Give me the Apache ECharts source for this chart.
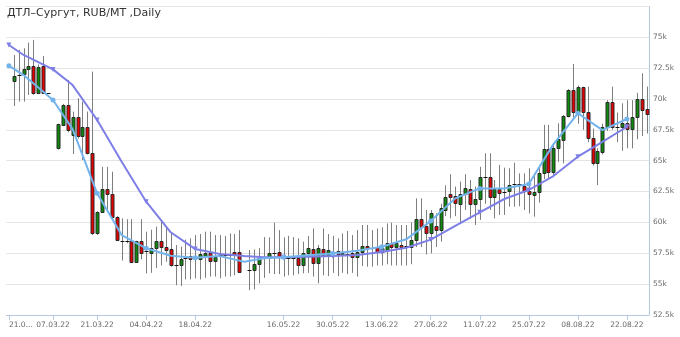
<!DOCTYPE html>
<html><head><meta charset="utf-8">
<script src="https://cdn.jsdelivr.net/npm/echarts@6/dist/echarts.min.js"></script>
<style>html,body{margin:0;padding:0;background:#fff}#c{width:680px;height:337px}</style>
</head><body><div id="c"></div>
<script>
const titleText = 'ДТЛ–Сургут, RUB/MT ,Daily';
const dates = [
'21.02.22','22.02.22','24.02.22','25.02.22',
'28.02.22','01.03.22','02.03.22','03.03.22','04.03.22',
'07.03.22','09.03.22','10.03.22','11.03.22',
'14.03.22','15.03.22','16.03.22','17.03.22','18.03.22',
'21.03.22','22.03.22','23.03.22','24.03.22','25.03.22',
'28.03.22','29.03.22','30.03.22','31.03.22','01.04.22',
'04.04.22','05.04.22','06.04.22','07.04.22','08.04.22',
'11.04.22','12.04.22','13.04.22','14.04.22','15.04.22',
'18.04.22','19.04.22','20.04.22','21.04.22','22.04.22',
'25.04.22','26.04.22','27.04.22','28.04.22','29.04.22',
'03.05.22','04.05.22','05.05.22','06.05.22',
'10.05.22','11.05.22','12.05.22','13.05.22',
'16.05.22','17.05.22','18.05.22','19.05.22','20.05.22',
'23.05.22','24.05.22','25.05.22','26.05.22','27.05.22',
'30.05.22','31.05.22','01.06.22','02.06.22','03.06.22',
'06.06.22','07.06.22','08.06.22','09.06.22','10.06.22',
'13.06.22','14.06.22','15.06.22','16.06.22','17.06.22',
'20.06.22','21.06.22','22.06.22','23.06.22','24.06.22',
'27.06.22','28.06.22','29.06.22','30.06.22','01.07.22',
'04.07.22','05.07.22','06.07.22','07.07.22','08.07.22',
'11.07.22','12.07.22','13.07.22','14.07.22','15.07.22',
'18.07.22','19.07.22','20.07.22','21.07.22','22.07.22',
'25.07.22','26.07.22','27.07.22','28.07.22','29.07.22',
'01.08.22','02.08.22','03.08.22','04.08.22','05.08.22',
'08.08.22','09.08.22','10.08.22','11.08.22','12.08.22',
'15.08.22','16.08.22','17.08.22','18.08.22','19.08.22',
'22.08.22','23.08.22','24.08.22','25.08.22','26.08.22'
];
const tickLabels = ['21.02.22','07.03.22','21.03.22','04.04.22','18.04.22','16.05.22','30.05.22','13.06.22','27.06.22','11.07.22','25.07.22','08.08.22','22.08.22'];
const yTicks = [52.5, 55, 57.5, 60, 62.5, 65, 67.5, 70, 72.5, 75, 77.5];

// [open, close, low, high] in thousands RUB/MT; null = no candle
const ohlc = [
null,
[71.49,71.90,69.44,73.57],
[71.95,71.95,69.79,73.98],
[72.03,72.44,69.79,74.11],
[72.44,72.71,70.33,74.57],
[72.71,70.52,70.33,74.79],
[70.52,72.63,70.40,72.80],
[72.71,70.46,70.41,73.49],
[70.50,70.50,70.50,70.50],
null,
[66.00,67.95,65.90,68.00],
[67.90,69.52,67.80,69.60],
[69.52,67.49,67.30,71.55],
[67.08,68.52,65.54,68.98],
[68.52,67.00,66.80,70.06],
[67.00,67.70,65.05,69.79],
[67.70,65.65,65.50,68.98],
[65.65,59.17,58.97,72.22],
[59.17,60.87,58.97,60.90],
[60.87,62.70,60.80,64.50],
[62.70,62.27,60.87,64.50],
[62.27,60.41,60.30,64.10],
[60.41,58.57,58.50,60.50],
[58.50,58.50,56.90,60.32],
[58.50,58.50,58.30,60.25],
[58.50,56.81,56.80,60.25],
[56.81,58.50,56.80,58.50],
[58.50,57.54,57.00,60.25],
[57.70,57.70,55.86,59.24],
[57.54,57.90,55.90,59.40],
[57.90,58.50,56.30,59.65],
[58.50,58.03,56.50,60.14],
[58.03,57.76,56.80,59.65],
[57.81,56.54,56.40,59.16],
[56.50,56.50,54.90,58.16],
[56.50,57.00,54.84,58.03],
[57.13,57.13,55.37,58.60],
[57.30,57.00,55.37,58.70],
[57.13,57.13,55.45,58.97],
[57.00,57.40,55.37,59.05],
[57.27,57.54,55.50,59.24],
[57.48,56.90,55.60,59.24],
[56.90,57.20,55.60,58.97],
[57.35,57.35,55.46,58.97],
[57.35,57.35,55.60,58.89],
[57.35,57.35,55.60,59.10],
[57.60,57.43,55.70,59.05],
[57.60,56.00,55.90,59.37],
null,
[56.13,56.13,54.50,57.75],
[56.13,56.59,54.56,57.80],
[56.59,57.08,55.05,57.90],
[57.20,57.20,55.50,58.80],
[57.08,57.48,55.86,58.78],
[57.54,57.54,55.80,59.97],
[57.60,57.16,55.80,59.37],
[57.08,57.08,55.60,58.78],
[57.08,57.08,55.70,58.90],
[57.08,57.08,55.70,58.80],
[57.13,56.54,55.80,58.70],
[56.54,57.54,55.86,58.43],
[57.54,57.89,55.90,58.89],
[57.80,56.70,55.60,59.50],
[56.70,57.89,55.05,58.16],
[57.80,57.35,55.70,59.50],
[57.27,57.75,55.64,59.05],
[57.60,57.60,55.90,58.90],
[57.70,57.43,55.64,58.70],
[57.35,57.54,55.90,59.10],
[57.43,57.43,55.80,59.30],
[57.48,57.20,55.90,58.97],
[57.20,57.60,55.60,59.37],
[57.60,58.08,56.46,59.78],
[58.08,57.89,56.40,59.78],
[57.89,57.89,56.40,59.37],
[58.00,57.60,56.50,59.50],
[57.60,57.90,56.50,59.60],
[57.75,58.30,56.60,59.90],
[58.30,58.03,56.50,59.97],
[58.03,58.30,56.50,59.78],
[58.16,58.03,56.50,59.78],
[58.10,58.10,56.50,59.78],
[58.03,58.57,56.60,60.00],
[58.57,60.24,58.00,61.94],
[60.24,59.65,58.00,61.94],
[59.70,59.10,57.40,61.00],
[59.11,60.73,57.48,61.00],
[59.70,59.38,58.00,60.73],
[59.38,61.13,58.43,61.50],
[61.00,62.08,60.50,63.00],
[62.30,62.03,60.32,63.90],
[62.16,61.54,60.50,62.90],
[61.49,62.30,59.86,63.30],
[62.30,62.80,61.00,63.90],
[62.67,61.49,60.30,63.43],
[61.49,61.89,59.78,62.90],
[61.86,63.70,60.20,64.50],
[63.70,63.70,61.50,65.60],
[63.70,62.03,61.00,65.60],
[62.03,62.67,60.32,63.43],
[62.67,62.35,60.60,64.65],
[62.48,62.48,60.60,64.43],
[62.57,63.02,61.27,64.38],
[63.08,63.08,61.27,64.83],
[63.08,63.08,61.30,63.97],
[62.97,62.57,61.00,63.97],
[62.57,62.30,60.73,64.38],
[62.22,62.48,60.46,63.97],
[62.48,64.03,61.60,64.65],
[64.03,65.95,63.50,67.90],
[65.95,64.10,63.50,67.90],
[64.10,66.00,63.80,66.40],
[66.00,66.73,64.90,68.03],
[66.70,68.65,64.78,68.70],
[68.65,70.73,68.50,70.80],
[70.73,68.92,68.50,72.84],
[68.92,71.00,68.00,71.10],
[71.00,68.92,67.50,71.00],
[68.97,66.81,66.50,71.00],
[66.81,64.84,64.60,67.60],
[64.84,65.78,63.02,66.00],
[65.73,67.70,65.50,68.00],
[67.70,69.73,67.40,69.90],
[69.73,67.76,67.50,71.00],
[67.76,67.76,66.50,68.90],
[67.70,68.03,65.80,69.65],
[68.03,67.60,66.00,69.90],
[67.60,68.57,66.00,69.90],
[68.57,69.97,66.73,70.50],
[69.97,69.10,67.00,72.08],
[69.16,68.78,67.20,71.00]
];

// weekly average lines (points on week starts)
const maIndex = [0,3,9,13,18,23,28,33,38,43,48,52,56,61,66,71,76,81,86,91,96,101,106,111,116,121,126];
const maFast = [72.70,71.94,69.92,67.56,62.35,58.97,57.89,57.29,57.13,57.26,56.80,57.08,57.16,57.32,57.48,57.70,58.02,58.62,60.10,61.94,62.75,62.75,63.10,66.32,68.84,67.48,68.38];
const maSlow = [74.38,73.57,72.40,71.13,68.30,64.91,61.67,59.19,57.83,57.43,57.27,57.16,57.16,57.21,57.27,57.35,57.60,57.94,58.60,59.72,60.81,61.89,62.62,63.75,65.32,66.53,67.75];

const UP = '#0b8a0b', DOWN = '#e60000', WICK = '#7e7e7e', EDGE = '#2a2a2a';
const AXIS = '#b4c8de', GRID = '#e4e4e4', LABEL = '#6a6a6a', FONT = 'DejaVu Sans';

const candleData = [];
ohlc.forEach((d, i) => { if (d) candleData.push([i, d[0], d[1], d[2], d[3]]); });
const labelSet = new Set(tickLabels);

function renderCandle(params, api) {
  const i = api.value(0), o = api.value(1), c = api.value(2), l = api.value(3), h = api.value(4);
  const pO = api.coord([i, o]), pC = api.coord([i, c]), pL = api.coord([i, l]), pH = api.coord([i, h]);
  const x = Math.round(pO[0]) + 0.5;
  const children = [];
  if (Math.abs(pH[1] - pL[1]) > 0.5) {
    children.push({type: 'line', shape: {x1: x, y1: pH[1], x2: x, y2: pL[1]}, style: {stroke: WICK, lineWidth: 1}});
  }
  const top = Math.min(pO[1], pC[1]), bot = Math.max(pO[1], pC[1]);
  if (bot - top < 1.2) {
    children.push({type: 'line', shape: {x1: x - 2, y1: Math.round(top) + 0.5, x2: x + 2, y2: Math.round(top) + 0.5}, style: {stroke: '#111', lineWidth: 1}});
  } else {
    children.push({type: 'rect', shape: {x: x - 1.5, y: Math.round(top) + 0.5, width: 3, height: Math.round(bot) - Math.round(top)},
      style: {fill: c >= o ? UP : DOWN, stroke: EDGE, lineWidth: 1}});
  }
  return {type: 'group', children};
}

const chart = echarts.init(document.getElementById('c'), null, {renderer: 'canvas'});
chart.setOption({
  animation: false,
  backgroundColor: '#ffffff',
  title: {text: titleText, left: 2, top: 3, textStyle: {fontFamily: FONT, fontSize: 11, fontWeight: 'normal', color: '#333'}},
  grid: {left: 6.4, top: 6.5, width: 642.6, height: 308.3, containLabel: false},
  xAxis: {
    type: 'category', data: dates, boundaryGap: true,
    axisLine: {show: true, lineStyle: {color: AXIS, width: 1}},
    axisTick: {show: true, alignWithLabel: true, length: 5, interval: (i, v) => labelSet.has(v), lineStyle: {color: AXIS}},
    axisLabel: {interval: (i, v) => labelSet.has(v), color: LABEL, fontFamily: FONT, fontSize: 7.5, margin: 6,
      formatter: v => v === dates[0] ? '{f|21.0...}' : v,
      rich: {f: {color: LABEL, fontFamily: FONT, fontSize: 7.5, padding: [0, 0, 0, 24]}}},
    splitLine: {show: false}
  },
  yAxis: {
    type: 'value', position: 'right', min: 52.5, max: 77.5, interval: 2.5, scale: true,
    axisLine: {show: true, lineStyle: {color: AXIS, width: 1}},
    axisTick: {show: false},
    splitLine: {show: true, lineStyle: {color: GRID, width: 1}},
    axisLabel: {show: true, showMaxLabel: false, margin: 4, color: LABEL, fontFamily: FONT, fontSize: 7.5, padding: [0, 0, 10, 0],
      formatter: v => (yTicks.includes(v) ? v + 'k' : '')}
  },
  series: [
    {type: 'custom', renderItem: renderCandle, data: candleData, encode: {x: 0, y: [1, 2, 3, 4]}, z: 2, clip: false},
    {type: 'line', data: maIndex.map((x, k) => [x, maSlow[k]]), symbol: 'triangle', symbolRotate: 180, symbolSize: 5,
      lineStyle: {color: '#7d7fe6', width: 2}, itemStyle: {color: '#7d7fe6'}, z: 3},
    {type: 'line', data: maIndex.map((x, k) => [x, maFast[k]]), symbol: 'circle', symbolSize: 5,
      lineStyle: {color: '#74b4ec', width: 2}, itemStyle: {color: '#74b4ec'}, z: 4}
  ]
});
</script></body></html>
